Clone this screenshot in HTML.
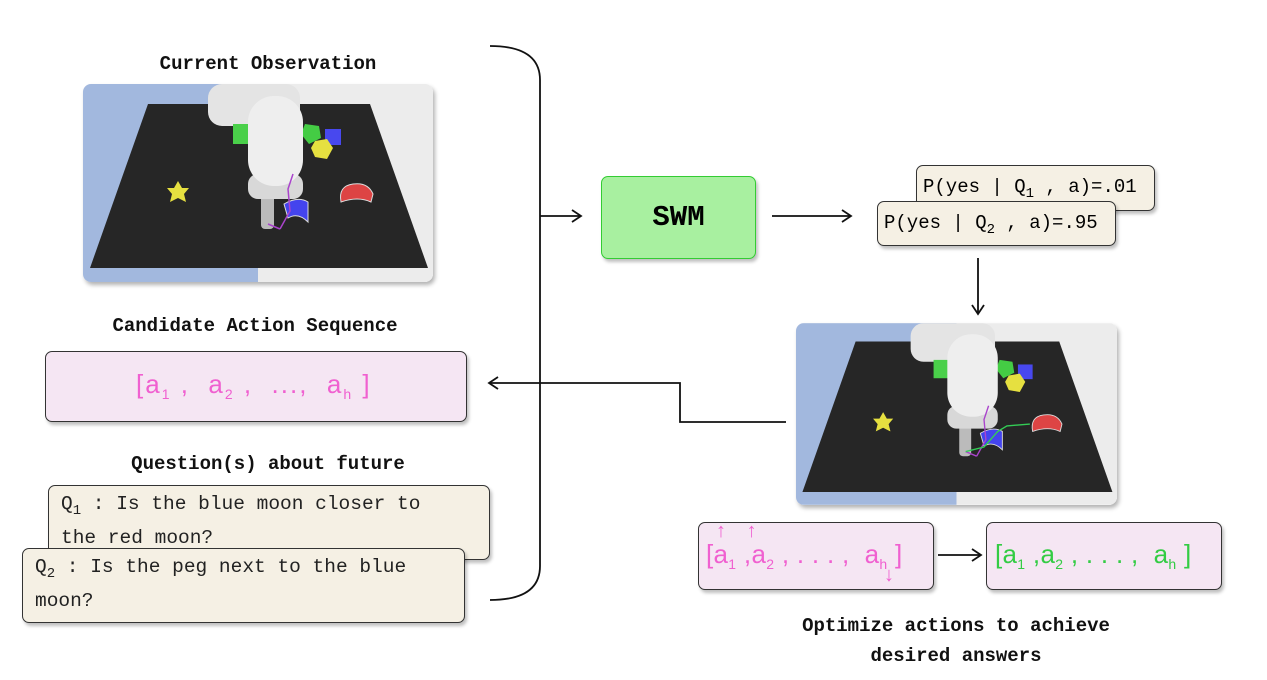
<!DOCTYPE html>
<html><head><meta charset="utf-8"><style>
body{margin:0;width:1267px;height:680px;background:#fff;position:relative;overflow:hidden;font-family:"Liberation Mono",monospace;}
.t{position:absolute;font-weight:bold;font-size:19px;color:#111;text-align:center;white-space:nowrap}
.box{position:absolute;border:1.3px solid #333;border-radius:7px;box-sizing:border-box;box-shadow:2px 3px 3px rgba(0,0,0,0.25)}
.cream{background:#f5f0e4}
.pink{background:#f5e6f3}
.q{font-size:19.5px;color:#222;line-height:27px;padding:5px 0 0 12px}
.sn{font-family:"Liberation Sans",sans-serif;font-size:26px;position:absolute;white-space:nowrap;letter-spacing:1px}
sub{font-size:14px}
.img{position:absolute;border-radius:8px;overflow:hidden;box-shadow:2px 3px 4px rgba(0,0,0,0.3)}
</style></head><body>
<svg width="0" height="0" style="position:absolute"><defs>
<g id="scene">
<rect width="350" height="198" fill="#ececec"/>
<rect width="175" height="198" fill="#a2b8de"/>
<polygon points="65,20 287,20 345,184 7,184" fill="#262626"/>
<rect x="125" y="0" width="92" height="42" rx="14" fill="#e4e4e4"/>
<rect x="150" y="40" width="17" height="20" fill="#4ad04a"/>
<polygon points="222,40 236,42 238,54 226,60 218,50" fill="#44cc44"/>
<rect x="242" y="45" width="16" height="16" fill="#4848ee"/>
<polygon points="232,57 244,55 250,64 244,75 232,73 228,64" fill="#e6e040"/>
<polygon points="95,97 99,104 106,104 101,110 103,118 95,114 87,118 89,110 84,104 91,104" fill="#e6e040"/>
<path d="M258,118 Q255,102 270,100 Q285,98 290,110 L288,118 Q275,112 258,118Z" fill="#dd4444" stroke="#ddd"/>
<rect x="178" y="108" width="13" height="37" rx="4" fill="#bbb"/>
<rect x="165" y="90" width="55" height="25" rx="10" fill="#d8d8d8"/>
<rect x="165" y="12" width="55" height="90" rx="26" fill="#eee"/>
<path d="M201,120 Q215,112 225,118 L225,138 Q215,128 205,134Z" fill="#4444ee" stroke="#ddd"/>
<path d="M197,145 L207,127 L205,105 L210,90 M185,140 L197,145" stroke="#aa44cc" stroke-width="1.5" fill="none"/>
</g></defs></svg>

<div class="t" style="left:118px;top:53px;width:300px">Current Observation</div>
<div class="img" style="left:83px;top:84px;width:350px;height:198px"><svg width="350" height="198"><use href="#scene"/></svg></div>

<div class="t" style="left:105px;top:315px;width:300px">Candidate Action Sequence</div>
<div class="box pink" style="left:45px;top:351px;width:422px;height:71px"></div>
<div class="sn" style="left:136px;top:369px;color:#f060d0;letter-spacing:2px">[a<sub>1</sub> , &nbsp;a<sub>2</sub> , &nbsp;..., &nbsp;a<sub>h</sub> ]</div>

<div class="t" style="left:118px;top:453px;width:300px">Question(s) about future</div>
<div class="box cream q" style="left:48px;top:485px;width:442px;height:75px">Q<sub>1</sub> : Is the blue moon closer to<br>the red moon?</div>
<div class="box cream q" style="left:22px;top:548px;width:443px;height:75px">Q<sub>2</sub> : Is the peg next to the blue<br>moon?</div>

<svg style="position:absolute;left:0;top:0" width="1267" height="680">
<defs><marker id="ar" markerWidth="14" markerHeight="14" refX="12" refY="7" orient="auto" markerUnits="userSpaceOnUse"><path d="M3,1 L12,7 L3,13" fill="none" stroke="#111" stroke-width="1.8"/></marker></defs>
<g fill="none" stroke="#111" stroke-width="1.8">
<path d="M490,46 Q540,46 540,80 L540,566 Q540,600 490,600"/>
<path d="M540,216 L581,216" marker-end="url(#ar)"/>
<path d="M772,216 L851,216" marker-end="url(#ar)"/>
<path d="M978,258 L978,314" marker-end="url(#ar)"/>
<path d="M786,422 L680,422 L680,383 L489,383" marker-end="url(#ar)"/>
<path d="M938,555 L981,555" marker-end="url(#ar)"/>
</g></svg>

<div class="box" style="left:601px;top:176px;width:155px;height:83px;background:#a8f0a0;border-color:#3c3;font-family:'Liberation Mono',monospace;font-weight:bold;font-size:29px;text-align:center;line-height:81px">SWM</div>

<div class="box cream" style="left:916px;top:165px;width:239px;height:46px;font-size:19px;padding:10px 0 0 6px">P(yes | Q<sub>1</sub> , a)=.01</div>
<div class="box cream" style="left:877px;top:201px;width:239px;height:45px;font-size:19px;padding:10px 0 0 6px">P(yes | Q<sub>2</sub> , a)=.95</div>

<div class="img" style="left:796px;top:323px;width:321px;height:182px"><svg width="321" height="182" viewBox="0 0 350 198"><use href="#scene"/><path d="M185,140 L205,135 L220,118 L230,112 L255,110" stroke="#33cc55" stroke-width="1.5" fill="none"/></svg></div>

<div class="box pink" style="left:698px;top:522px;width:236px;height:68px"></div>
<div class="sn" style="left:706px;top:539px;color:#f060d0;letter-spacing:0.3px">[a<sub>1</sub> ,a<sub>2</sub> , . . . , &nbsp;a<sub>h</sub> ]</div>
<div class="sn" style="left:716px;top:520px;color:#f060d0;font-size:20px;font-weight:bold">↑ &nbsp;&nbsp;↑</div>
<div class="sn" style="left:884px;top:564px;color:#f060d0;font-size:20px;font-weight:bold">↓</div>
<div class="box pink" style="left:986px;top:522px;width:236px;height:68px"></div>
<div class="sn" style="left:995px;top:539px;color:#33cc44;letter-spacing:0.3px">[a<sub>1</sub> ,a<sub>2</sub> , . . . , &nbsp;a<sub>h</sub> ]</div>

<div class="t" style="left:756px;top:615px;width:400px">Optimize actions to achieve</div>
<div class="t" style="left:756px;top:645px;width:400px">desired answers</div>
</body></html>
